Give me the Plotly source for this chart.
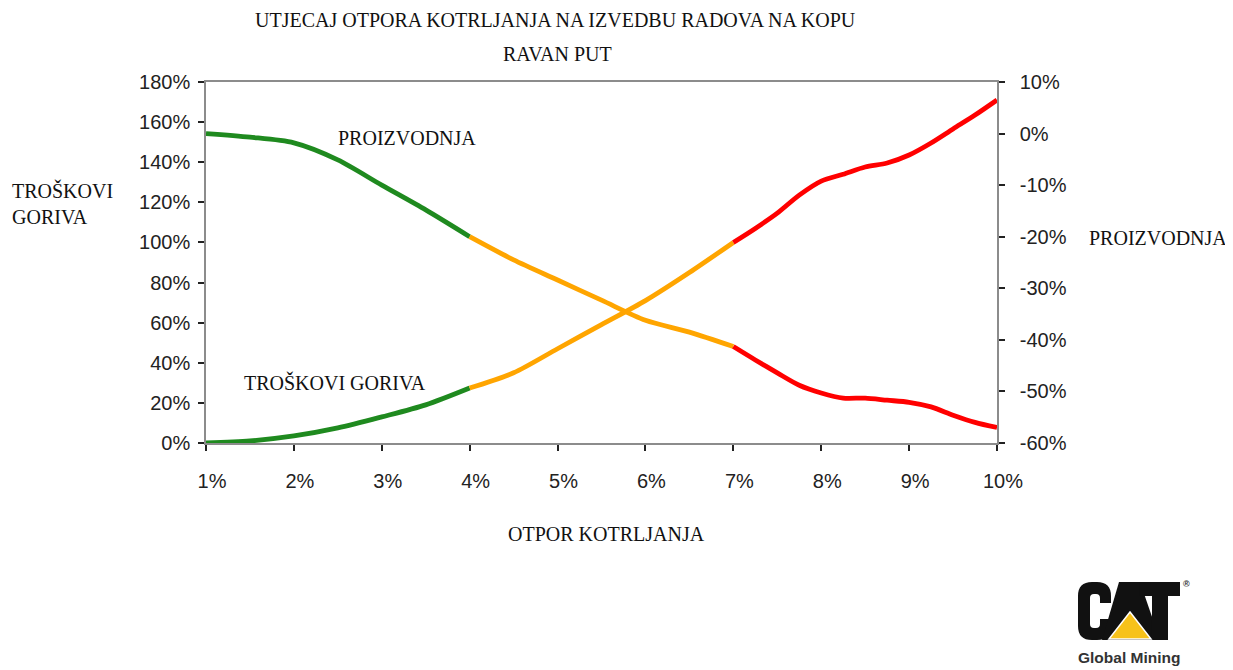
import plotly.graph_objects as go

# otpor kotrljanja (%)
otpor = [1, 1.5, 2, 2.5, 3, 3.5, 4, 4.5, 5, 5.5, 6, 6.5, 7,
         7.25, 7.5, 7.75, 8, 8.25, 8.5, 8.75, 9, 9.25, 9.5, 9.75, 10]

# troškovi goriva (lijeva os, %)
troskovi_goriva = [0, 1, 3.5, 7.5, 13, 19, 27.4, 35, 47, 59, 71, 85, 100,
                   107, 114.6, 123.6, 130.6, 134, 137.6, 139.6, 143.6, 149.6, 156.6, 163.5, 171]

# proizvodnja (desna os, %)
proizvodnja = [0, -0.7, -1.8, -5.1, -10, -14.8, -20, -24.5, -28.4, -32.3, -36.2, -38.5, -41.3,
               -43.9, -46.4, -48.8, -50.3, -51.3, -51.3, -51.7, -52.1, -53, -54.6, -56, -57]

x_ticks = [1, 2, 3, 4, 5, 6, 7, 8, 9, 10]
x_labels = [f"{v}%" for v in x_ticks]
y2_ticks = [10, 0, -10, -20, -30, -40, -50, -60]
y2_labels = [f"{v}%" for v in y2_ticks]   # obična crtica, ne unicode minus

GREEN = "#1f8a1f"
ORANGE = "#ffa500"
RED = "#ff0000"
SERIF = "Liberation Serif, Times New Roman, serif"
SANS = "Liberation Sans, Arial, sans-serif"

# page has an 8px body margin -> figure is 8px smaller, plot area given in page pixels
OFF = 8
W, H = 1233 - OFF, 670 - OFF
L, R, T, B = 206, 997, 82, 443


def px(x, y):
    """page pixel -> paper coords"""
    return (x - L) / (R - L), (B - y) / (B - T)


def path(cmds):
    """cmds: list of (letter, [(x, y), ...]) in page pixels"""
    out = []
    for letter, pts in cmds:
        coords = " ".join("{:.5f},{:.5f}".format(*px(x, y)) for x, y in pts)
        out.append(letter + coords)
    return " ".join(out) + " Z"


def poly(points):
    return path([("M" if i == 0 else "L", [p]) for i, p in enumerate(points)])


i4 = otpor.index(4)
i7 = otpor.index(7)
segments = [(0, i4 + 1, GREEN), (i4, i7 + 1, ORANGE), (i7, len(otpor), RED)]

fig = go.Figure()
for a, b, col in segments:
    fig.add_trace(go.Scatter(
        x=otpor[a:b], y=troskovi_goriva[a:b], mode="lines",
        line=dict(color=col, width=4.8, shape="spline", smoothing=0.8),
        hoverinfo="skip", showlegend=False,
    ))
for a, b, col in segments:
    fig.add_trace(go.Scatter(
        x=otpor[a:b], y=proizvodnja[a:b], mode="lines", yaxis="y2",
        line=dict(color=col, width=4.8, shape="spline", smoothing=0.8),
        hoverinfo="skip", showlegend=False,
    ))

tickfont = dict(family=SANS, size=20, color="#222")
axis_line = dict(showline=True, linecolor="#8c8c8c", linewidth=1.5,
                 showgrid=False, zeroline=False, tickcolor="#222", tickwidth=1.5)
inner_ticks = dict(ticks="inside", ticklen=6, showticklabels=False, showline=False,
                   showgrid=False, zeroline=False, tickcolor="#222", tickwidth=1.5)

fig.update_layout(
    width=W,
    height=H,
    margin=dict(l=L - OFF, r=1233 - R, t=T - OFF, b=670 - B),
    paper_bgcolor="white",
    plot_bgcolor="white",
    showlegend=False,
    xaxis=dict(range=[1, 10], tickvals=x_ticks, ticktext=x_labels, ticks="outside",
               ticklen=6, mirror=True, tickfont=tickfont, ticklabelstandoff=13,
               ticklabelshift=6, **axis_line),
    yaxis=dict(range=[0, 180], dtick=20, ticksuffix="%", ticks="outside", ticklen=6,
               tickfont=tickfont, ticklabelstandoff=4, **axis_line),
    yaxis2=dict(range=[-60, 10], tickvals=y2_ticks, ticktext=y2_labels, ticks="outside",
                ticklen=6, overlaying="y", side="right", tickfont=tickfont,
                ticklabelstandoff=11, **axis_line),
    # inner halves of the crossing tick marks
    xaxis2=dict(range=[1, 10], tickvals=x_ticks, overlaying="x", anchor="y", **inner_ticks),
    yaxis3=dict(range=[0, 180], dtick=20, overlaying="y", side="left", **inner_ticks),
    yaxis4=dict(range=[-60, 10], tickvals=y2_ticks, overlaying="y", side="right",
                **inner_ticks),
)

texts = [
    ("UTJECAJ OTPORA KOTRLJANJA NA IZVEDBU RADOVA NA KOPU", 555, 20, "center"),
    ("RAVAN PUT", 557, 54, "center"),
    ("PROIZVODNJA", 407, 138, "center"),
    ("TROŠKOVI GORIVA", 335, 382, "center"),
    ("TROŠKOVI<br>GORIVA", 10, 203, "left"),
    ("PROIZVODNJA", 1087, 238, "left"),
    ("OTPOR KOTRLJANJA", 606, 534, "center"),
]
for txt, x, y, anchor in texts:
    a, b = px(x, y)
    fig.add_annotation(text=txt, x=a, y=b, xref="paper", yref="paper",
                       xanchor=anchor, yanchor="middle", align="left", showarrow=False,
                       font=dict(family=SERIF, size=20, color="#111"))

# CAT logo
c_path = path([
    ("M", [(1078, 596)]), ("Q", [(1078, 582), (1092, 582)]), ("L", [(1097, 582)]),
    ("Q", [(1111, 582), (1111, 596)]), ("L", [(1111, 603)]), ("L", [(1100, 603)]),
    ("L", [(1100, 598)]), ("Q", [(1100, 594), (1096, 594)]), ("L", [(1094, 594)]),
    ("Q", [(1090, 594), (1090, 598)]), ("L", [(1090, 624)]),
    ("Q", [(1090, 628), (1094, 628)]), ("L", [(1096, 628)]),
    ("Q", [(1100, 628), (1100, 624)]), ("L", [(1100, 619)]), ("L", [(1111, 619)]),
    ("L", [(1111, 626)]), ("Q", [(1111, 640), (1097, 640)]), ("L", [(1092, 640)]),
    ("Q", [(1078, 640), (1078, 626)]),
])
a_path = poly([(1119, 582), (1140, 582), (1160, 640), (1102, 640)])
t_path = poly([(1140, 582), (1180, 582), (1180, 596), (1168, 596), (1168, 640),
               (1152, 640), (1152, 596), (1140, 596)])
tri_path = poly([(1130, 612), (1151, 639), (1109, 639)])
for p in (c_path, a_path, t_path):
    fig.add_shape(type="path", path=p, xref="paper", yref="paper",
                  fillcolor="#111", line=dict(width=0))
fig.add_shape(type="path", path=tri_path, xref="paper", yref="paper",
              fillcolor="#f7c21a", line=dict(color="white", width=1.5))
for txt, x, y, size in [("®", 1186, 584, 9), ("Global Mining", 1129, 657, 15.5)]:
    a, b = px(x, y)
    fig.add_annotation(text=txt, x=a, y=b, xref="paper", yref="paper", xanchor="center",
                       yanchor="middle", showarrow=False,
                       font=dict(family=SANS, size=size, color="#333", weight="bold"))

fig.write_html("out.html")
